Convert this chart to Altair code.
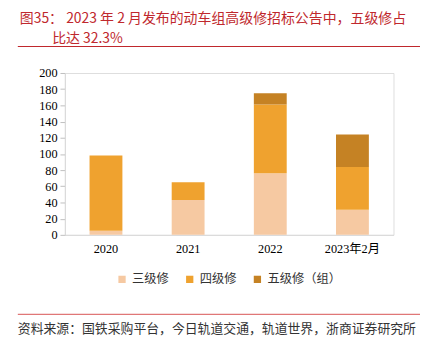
import altair as alt
import pandas as pd

categories = ["2020", "2021", "2022", "2023年2月"]
series_names = ["三级修", "四级修", "五级修（组）"]
s3 = [5, 43, 76, 31]
s4 = [93, 22, 85, 53]
s5 = [0, 0, 14, 40]
colors = ["#F6C9A2", "#EFA22F", "#C58224"]
y_ticks = [0, 20, 40, 60, 80, 100, 120, 140, 160, 180, 200]

title1 = "图35：  2023 年 2 月发布的动车组高级修招标公告中，五级修占"
title2 = "比达 32.3%"
source = "资料来源：国铁采购平台，今日轨道交通，轨道世界，浙商证券研究所"

rows = []
for i, c in enumerate(categories):
    for j, (name, vals) in enumerate(zip(series_names, [s3, s4, s5])):
        rows.append({"cat": c, "series": name, "value": vals[i], "idx": j})
df = pd.DataFrame(rows)

serif = "Liberation Serif, Noto Sans CJK SC"
cjk = "Noto Sans CJK SC"

bars = alt.Chart(df).mark_bar().encode(
    x=alt.X("cat:N", sort=categories, title=None,
            scale=alt.Scale(paddingInner=0.6, paddingOuter=0.3),
            axis=alt.Axis(labelAngle=0, ticks=False, labelFont=serif, labelFontSize=12.5,
                          labelColor="#000000", domainColor="#D9D9D9", labelPadding=8)),
    y=alt.Y("value:Q", title=None, stack="zero",
            scale=alt.Scale(domain=[0, 200]),
            axis=alt.Axis(values=y_ticks, grid=False, labelFont=serif, labelFontSize=12.5,
                          labelColor="#000000", domainColor="#D9D9D9", tickColor="#BFBFBF",
                          tickSize=5, labelPadding=3)),
    color=alt.Color("series:N", scale=alt.Scale(domain=series_names, range=colors),
                    legend=alt.Legend(orient="none", direction="horizontal", title=None,
                                      legendX=52, legendY=204, symbolType="square",
                                      symbolSize=55, labelFont=cjk, labelFontSize=12.5,
                                      labelColor="#333333", columnPadding=14,
                                      symbolStrokeWidth=0)),
    order=alt.Order("idx:Q", sort="ascending"),
)

one = alt.Data(values=[{"a": 1}])

t1 = alt.Chart(one).mark_text(align="left", baseline="middle", font=cjk, fontSize=14.2,
                              color="#C0282D").encode(
    x=alt.value(-46), y=alt.value(-55), text=alt.value(title1))
t2 = alt.Chart(one).mark_text(align="left", baseline="middle", font=cjk, fontSize=14.2,
                              color="#C0282D").encode(
    x=alt.value(-13), y=alt.value(-35), text=alt.value(title2))
line1 = alt.Chart(one).mark_rule(color="#C0282D", strokeWidth=1.2).encode(
    x=alt.value(-48), x2=alt.value(362), y=alt.value(-27))
line2 = alt.Chart(one).mark_rule(color="#E07777", strokeWidth=1.2).encode(
    x=alt.value(-48), x2=alt.value(362), y=alt.value(246))
src = alt.Chart(one).mark_text(align="left", baseline="middle", font=cjk, fontSize=13.1,
                               color="#333333").encode(
    x=alt.value(-48), y=alt.value(261), text=alt.value(source))

chart = alt.layer(bars, t1, t2, line1, line2, src).properties(
    width=335, height=165,
    autosize=alt.AutoSizeParams(type="none"),
    padding={"left": 58, "top": 63, "right": 27, "bottom": 108},
).configure_view(stroke=None).configure(background="#FFFFFF")

chart.save("out.html", embed_options={"renderer": "svg", "actions": False})
